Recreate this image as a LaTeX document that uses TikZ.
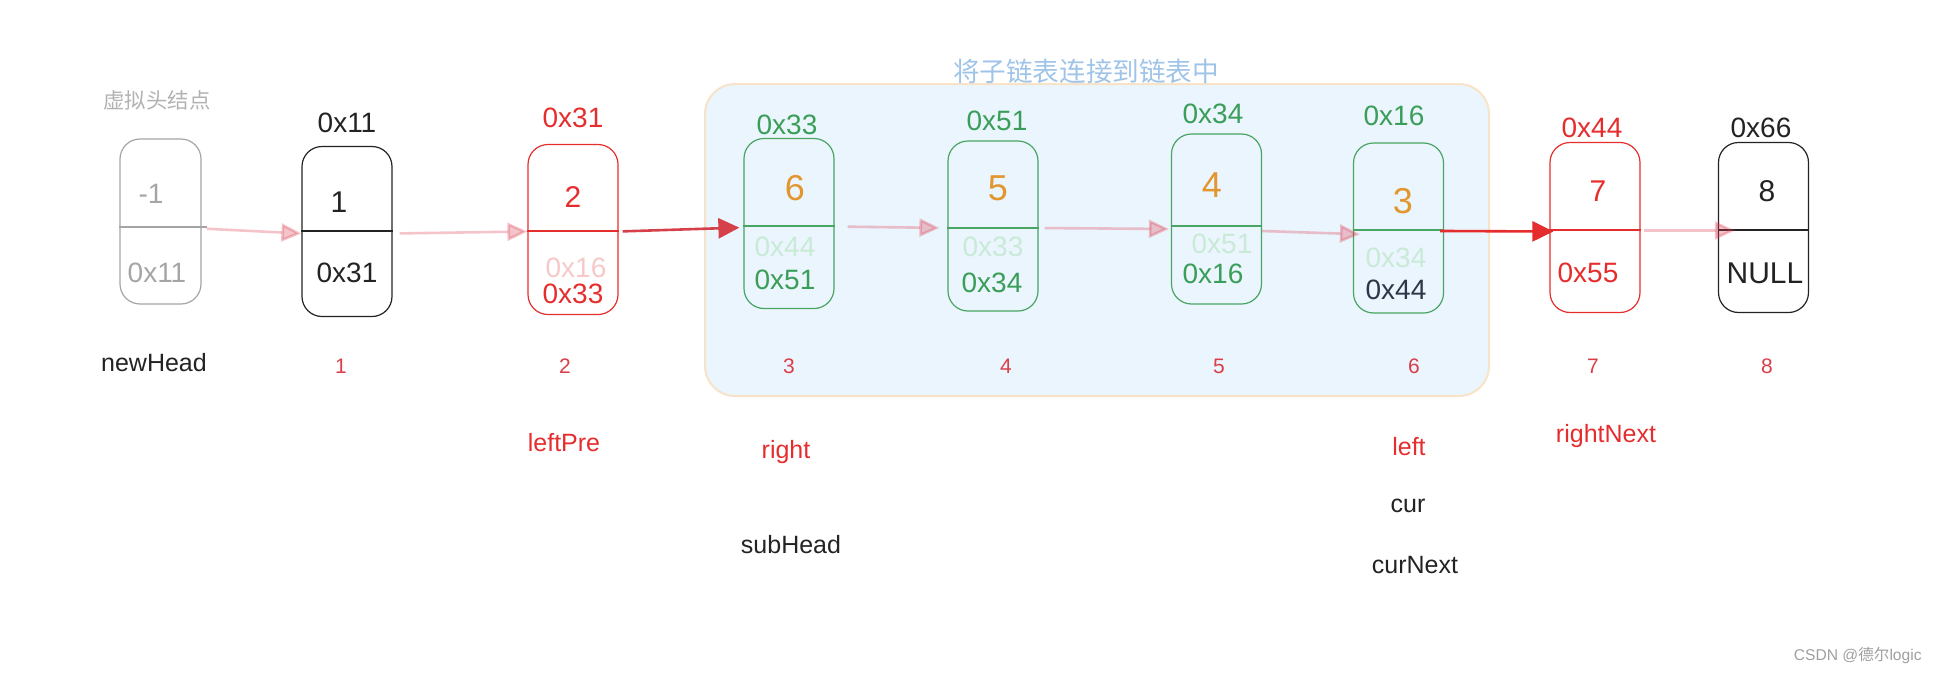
\documentclass[tikz,border=0pt]{standalone}
\usepackage{fontspec}
\setmainfont{Liberation Sans}
\newfontfamily\cjk{Noto Sans CJK SC}
\usetikzlibrary{arrows.meta,positioning}
\definecolor{dummygray}{RGB}{165,165,165}
\definecolor{nodered}{RGB}{229,45,45}
\definecolor{nodegreen}{RGB}{72,165,100}
\definecolor{txtgreen}{RGB}{58,158,88}
\definecolor{numorange}{RGB}{226,150,48}
\definecolor{fadegreen}{RGB}{200,234,214}
\definecolor{fadered}{RGB}{246,200,200}
\definecolor{slate}{RGB}{45,55,72}
\definecolor{idxred}{RGB}{218,62,72}
\definecolor{titleblue}{RGB}{160,196,232}
\definecolor{boxfill}{RGB}{235,245,253}
\definecolor{boxedge}{RGB}{247,227,200}
\definecolor{palered}{RGB}{220,60,80}
\definecolor{darkred}{RGB}{214,64,74}
\definecolor{inkdark}{RGB}{35,35,35}

\begin{document}
\begin{tikzpicture}[x=0.5pt, y=-0.5pt,
  lnode/.style={draw, rounded corners=10pt, minimum width=45pt, minimum height=85pt, inner sep=0pt, line width=0.6pt},
  val/.style={font=\fontsize{14}{16}\selectfont, inner sep=0pt},
  num/.style={font=\fontsize{15}{17}\selectfont, inner sep=0pt},
  big/.style={font=\fontsize{18}{20}\selectfont, inner sep=0pt, text=numorange},
  idx/.style={font=\fontsize{10.5}{12}\selectfont, inner sep=0pt, text=idxred},
  ptr/.style={font=\fontsize{12.5}{14}\selectfont, inner sep=0pt},
  pale/.style={draw=palered, opacity=0.3, line width=1.3pt, -{Triangle[length=10pt, width=9pt, fill=palered]}},
  link/.style={draw=#1, line width=1.3pt, -{Triangle[length=10.5pt, width=10pt]}}]
\useasboundingbox (0,0) rectangle (1935,675);

% sub list area
\node[draw=boxedge, fill=boxfill, line width=1pt, rounded corners=15pt,
  minimum width=392pt, minimum height=156pt, inner sep=0pt] (sub) at (1097,240) {};
\node[font=\cjk\fontsize{13.3}{15}\selectfont, text=titleblue, inner sep=0pt] (title) at (1086,71) {将子链表连接到链表中};

% list nodes
\node[lnode, draw=dummygray, minimum width=40.5pt, minimum height=82.5pt] (n0) at (160.5,221.5) {};
\foreach \n/\x/\y/\s/\c in {1/347/231.5/-0.25/inkdark, 2/573/229.5/0.75/nodered, 3/789/223.5/1.25/nodegreen,
    4/993/226/1/nodegreen, 5/1216.5/219/3.5/nodegreen, 6/1398.5/228/1/nodegreen,
    7/1595/227.5/1.25/nodered, 8/1763.5/227.5/1.25/inkdark}{
  \node[lnode, draw=\c] (n\n) at (\x,\y) {};
  \draw[\c, line width=0.6pt] ([yshift=-\s pt]n\n.west) -- ([yshift=-\s pt]n\n.east);
}
\draw[dummygray, line width=0.6pt] ([yshift=-2.75pt]n0.west) -- ([xshift=2.5pt, yshift=-2.75pt]n0.east);

% dummy head
\node[font=\cjk\fontsize{10.7}{12}\selectfont, text=dummygray!85, inner sep=0pt] (dlbl) at (157,100) {虚拟头结点};
\node[val, text=dummygray] (n0v) at (151,194) {-1};
\node[val, text=dummygray] (n0p) at (157,273) {0x11};

% addresses above
\node[val, text=inkdark] (a1) at (347,123) {0x11};
\node[val, text=nodered] (a2) at (573,118) {0x31};
\node[val, text=txtgreen] (a3) at (787,125) {0x33};
\node[val, text=txtgreen] (a4) at (997,121) {0x51};
\node[val, text=txtgreen] (a5) at (1213,114) {0x34};
\node[val, text=txtgreen] (a6) at (1394,116) {0x16};
\node[val, text=nodered] (a7) at (1592,128) {0x44};
\node[val, text=inkdark] (a8) at (1761,128) {0x66};

% values
\node[num, text=inkdark] (n1v) at (339,202) {1};
\node[num, text=nodered] (n2v) at (573,197) {2};
\node[big] (n3v) at (795,188) {6};
\node[big] (n4v) at (998,188) {5};
\node[big] (n5v) at (1212,185) {4};
\node[big] (n6v) at (1403,201) {3};
\node[num, text=nodered] (n7v) at (1598,191) {7};
\node[num, text=inkdark] (n8v) at (1767,191) {8};

% next fields
\node[val, text=inkdark] (n1p) at (347,273) {0x31};
\node[val, text=fadered] (n2o) at (576,268) {0x16};
\node[val, text=nodered] (n2p) at (573,294) {0x33};
\node[val, text=fadegreen] (n3o) at (785,247) {0x44};
\node[val, text=txtgreen] (n3p) at (785,280) {0x51};
\node[val, text=fadegreen] (n4o) at (993,247) {0x33};
\node[val, text=txtgreen] (n4p) at (992,283) {0x34};
\node[val, text=fadegreen] (n5o) at (1222,244) {0x51};
\node[val, text=txtgreen] (n5p) at (1213,274) {0x16};
\node[val, text=fadegreen] (n6o) at (1396,258) {0x34};
\node[val, text=slate] (n6p) at (1396,290) {0x44};
\node[val, text=nodered] (n7p) at (1588,273) {0x55};
\node[num, text=inkdark] (n8p) at (1765,273) {NULL};

% links
\draw[pale, shorten <=2.5pt] ([yshift=-3.5pt]n0.east) -- ([yshift=-1pt]n1.west);
\draw[pale, shorten <=3.5pt] ([yshift=-1pt]n1.east) -- ([yshift=-1pt]n2.west);
\draw[link=darkred, shorten <=2pt, shorten >=2pt] ([yshift=-1pt]n2.east) -- ([yshift=-2pt]n3.west);
\draw[pale, shorten <=6.5pt, shorten >=4pt] ([yshift=-1.5pt]n3.east) -- ([yshift=-1pt]n4.west);
\draw[pale, shorten <=3pt, shorten >=1pt] ([yshift=-1pt]n4.east) -- ([yshift=-5pt]n5.west);
\draw[pale, shorten >=-3.5pt] ([yshift=-6pt]n5.east) -- ([yshift=-3pt]n6.west);
\draw[link=nodered, shorten <=-2pt, shorten >=-2pt] ([yshift=-1.5pt]n6.east) -- ([yshift=-2pt]n7.west);
\draw[pale, shorten <=1.5pt, shorten >=-8.5pt] ([yshift=-1.5pt]n7.east) -- ([yshift=-1.5pt]n8.west);

% positions
\foreach \x/\t in {341/1, 565/2, 789/3, 1006/4, 1219/5, 1414/6, 1593/7, 1767/8}
  \node[idx] (i\t) at (\x,366) {\t};

% pointers
\node[ptr, text=inkdark] (newHead) at (154,363) {newHead};
\node[ptr, text=nodered] (leftPre) at (564,443) {leftPre};
\node[ptr, text=nodered] (right) at (786,452) {right};
\node[ptr, text=inkdark] (subHead) at (791,545) {subHead};
\node[ptr, text=nodered] (left) at (1409,447) {left};
\node[ptr, text=inkdark] (cur) at (1408,506) {cur};
\node[ptr, text=inkdark] (curNext) at (1415,565) {curNext};
\node[ptr, text=nodered] (rightNext) at (1606,436) {rightNext};

\node[font=\fontsize{7.8}{9}\selectfont, text=gray!75, anchor=east, inner sep=0pt] (mark) at (1922,656) {CSDN @{\cjk 德尔}logic};
\end{tikzpicture}
\end{document}
